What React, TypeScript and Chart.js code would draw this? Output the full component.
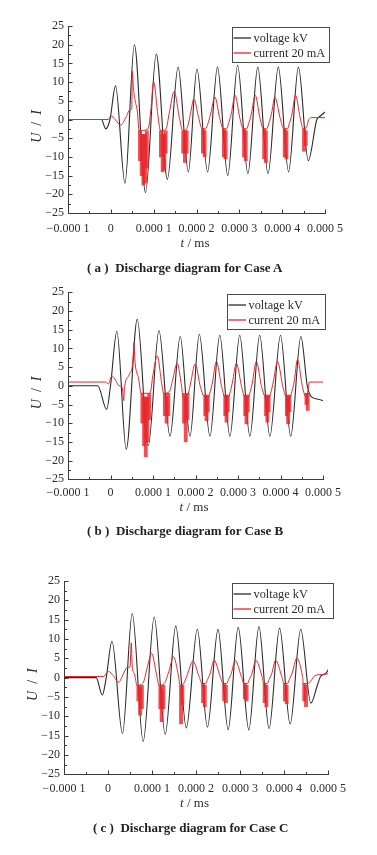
import React, { useEffect, useRef } from 'react';
import { Chart, registerables } from 'chart.js';

Chart.register(...registerables);

// ---------- axes (time in units of 1e-6 ms; labels shown in ms) ----------
const X_MIN = -100;
const X_MAX = 500;
const X_STEP = 100;
const X_MINOR = 50;
const Y_MIN = -25;
const Y_MAX = 25;
const Y_STEP = 5;
const Y_MINOR = 2.5;

const xTickValues = [-100, 0, 100, 200, 300, 400, 500];
const xTickLabels = ['\u22120.000 1', '0', '0.000 1', '0.000 2', '0.000 3', '0.000 4', '0.000 5'];
const yTickValues = [25, 20, 15, 10, 5, 0, -5, -10, -15, -20, -25];
const yTickLabels = ['25', '20', '15', '10', '5', '0', '\u22125', '\u221210', '\u221215', '\u221220', '\u221225'];
const seriesLabels = ['voltage kV', 'current 20 mA'];
const captionTexts = [
  '( a )  Discharge diagram for Case A',
  '( b )  Discharge diagram for Case B',
  '( c )  Discharge diagram for Case C',
];

// ---------- Case A ----------
const voltageTimeA = [-100, -22, -12, -2, 11, 33, 55, 81, 106, 132, 157, 181, 201, 226, 249, 273, 296, 320, 343, 367, 391, 415, 438, 461, 481, 490, 500];
const voltageA = [0, 0, -2.5, 0, 9, -17, 20, -19.5, 17.5, -16, 14, -14, 13.5, -14, 14, -15, 14.5, -14.5, 14, -14.5, 14, -14, 14, -11, 0, 1, 2];
const currentTimeA = [-100, -6, 0, 10, 23, 35, 44, 49, 50, 53, 57, 62, 66, 87, 93, 100, 110, 116, 129, 136, 148, 160, 168, 179, 185, 194, 205, 213, 221, 227, 233, 243, 254, 262, 270, 275, 281, 290, 301, 309, 317, 322, 328, 337, 348, 356, 364, 369, 375, 383, 395, 404, 412, 417, 423, 431, 442, 449, 457, 462, 468, 500];
const currentA = [0, 0, 1, 0, -1.5, 0.5, 2.5, 3, 13, 8, 5, 2, -3, -2.5, 2, 10, 1, -3, -2.5, 1.5, 7.5, 0.5, -3, -2, 1, 5.5, 0.5, -2.5, -2.5, -1, 1.5, 6, 0.5, -2.5, -2.5, -1, 1.5, 6.5, 0.5, -2.5, -2.5, -1, 1.5, 6.5, 0.5, -2.5, -2.5, -1, 1.5, 6, 0.5, -2.5, -2.5, -1, 1.5, 6.5, 0.5, -2.5, -2, 0, 0.5, 0.5];
const burstTimeA = [68, 72, 76, 80, 84, 117, 121, 125, 128, 169, 173, 177, 215, 219, 264, 268, 311, 315, 358, 362, 406, 410, 451, 455];
const burstLowA = [-11, -15, -17.5, -17, -13, -10, -14, -13.5, -9, -9, -11.5, -9, -9, -10, -10, -10.5, -10, -11, -10.5, -11.5, -10, -10.5, -8.5, -7];
const burstHighA = [-3, -4, -4, -4, -3, -3, -4, -4, -3, -3, -3, -3, -2.5, -3, -2.5, -3, -2.5, -3, -2.5, -3, -2.5, -3, -2.5, -3];

// ---------- Case B ----------
const voltageTimeB = [-100, -30, -9, 0, 15, 37, 63, 89, 114, 140, 164, 187, 209, 234, 257, 281, 304, 328, 351, 375, 400, 424, 448, 463, 470, 478, 490, 500];
const voltageB = [0, 0, -6.3, 0, 14.6, -17, 17.8, -16, 14.8, -13.5, 13.2, -13.5, 13.8, -13.5, 13.5, -13.5, 13.5, -13.5, 13.5, -13.5, 13.5, -13.5, 13.2, 0, -2.5, -3.3, -3.6, -4];
const currentTimeB = [-100, -12, -5, 3, 12, 20, 28, 31, 33, 44, 53, 55, 58, 66, 72, 93, 100, 110, 120, 125, 139, 146, 157, 167, 171, 183, 189, 199, 212, 222, 230, 235, 240, 249, 262, 269, 277, 282, 287, 296, 309, 316, 324, 329, 334, 343, 356, 365, 373, 378, 383, 393, 406, 414, 422, 427, 432, 440, 452, 460, 465, 468, 500];
const currentB = [1, 1, 0.5, 2.6, 1.5, 0, -0.5, -4, -0.5, 3, 7, 11.5, 6, 2, -2, -2, 3, 8, 1, -2, -1.5, 1.5, 6, 0, -3, -2, 1, 5.8, -0.5, -3, -3, -1.5, 1, 6.5, -0.5, -3, -3, -1.5, 1, 6, -0.5, -3, -3, -1.5, 1, 6.5, -0.5, -3, -3, -1.5, 1, 6.5, -0.5, -3, -3, -1.5, 1, 7, -0.5, -3, -1, 1, 1];
const burstTimeB = [75, 79, 83, 87, 91, 128, 132, 136, 173, 177, 181, 223, 226, 229, 270, 273, 276, 317, 320, 323, 366, 369, 372, 415, 418, 421, 461, 464];
const burstLowB = [-10, -16, -19, -15, -9, -8, -10, -8, -10, -15, -9, -8, -9.3, -7, -8, -9.7, -7, -8, -10.2, -7, -8, -9.7, -7, -8, -10.2, -7, -5, -6.6];
const burstHighB = [-2, -3, -3, -3, -2, -2, -3, -2, -2, -3, -2, -2.5, -3, -2.5, -2.5, -3, -2.5, -2.5, -3, -2.5, -2.5, -3, -2.5, -2.5, -3, -2.5, -2, -2];

// ---------- Case C ----------
const voltageTimeC = [-100, -27, -13, -4, 9, 33, 55, 80, 105, 130, 154, 178, 203, 226, 250, 273, 296, 320, 343, 366, 390, 414, 438, 461, 476, 483, 495, 500];
const voltageC = [0, 0, -4.5, 0, 9.4, -14.5, 16.6, -16.5, 15.7, -14.7, 13.4, -13, 12.5, -12.8, 12.5, -13.5, 13, -13.5, 13.2, -13.2, 12.8, -12, 12.5, -6.6, -1.9, 0.3, 1.1, 2];
const currentTimeC = [-100, -20, -10, 1, 12, 24, 35, 43, 50, 53, 55, 60, 66, 79, 90, 99, 110, 116, 128, 138, 149, 160, 164, 172, 181, 193, 207, 214, 222, 226, 232, 241, 255, 262, 270, 274, 280, 289, 303, 309, 317, 321, 327, 336, 350, 354, 362, 366, 372, 381, 395, 400, 408, 412, 418, 429, 442, 444, 452, 460, 470, 485, 500];
const currentC = [0.3, 0.3, 0.3, 1.6, 0.5, -1.2, 1, 2.6, 2.8, 9, 3, 1, -2, -1.5, 3, 6.3, 1, -2, -1.5, 1.5, 5.4, 0.5, -2, -1.5, 1, 4.3, 0.3, -1.5, -1.5, -0.5, 1, 4.5, 0.3, -1.5, -1.5, -0.5, 1, 4.5, 0.3, -1.5, -1.5, -0.5, 1, 4.5, 0.3, -1.5, -1.5, -0.5, 1, 4.5, 0.3, -1.5, -1.5, -0.5, 1, 5, 0.3, -1.5, -1.5, -1, 0.5, 0.8, 1];
const burstTimeC = [69, 73, 77, 119, 122, 126, 166, 169, 216, 220, 264, 268, 311, 315, 356, 360, 402, 406, 446, 450];
const burstLowC = [-6, -9.7, -8, -8, -11.4, -8, -12, -7, -6.5, -7.5, -6, -6.5, -5.5, -6, -6.5, -7.5, -6, -6.7, -6, -7.5];
const burstHighC = [-2, -2.5, -2, -2, -3, -2, -2, -2, -1.5, -2, -1.5, -2, -1.5, -2, -1.5, -2, -1.5, -2, -1.5, -2];

// ---------- styling ----------
const FONT = '"Liberation Serif", "DejaVu Serif", serif';
const TEXT = '#2c2c2c';
const AXIS = '#3a3a3a';
const BLACK = '#2a2a2a';
const RED = '#e8252b';
const BURST = 'rgba(232, 37, 43, 0.8)';
const X_AXIS_H = 30;
const W = 377;

type Panel = {
  top: number;
  height: number;
  plot: { left: number; right: number; top: number; bottom: number };
  xTickPad: number;
  xTitleDy: number;
  yTitleX: number;
  legend: { dr: number; dt: number; w: number; h: number };
  captionLeft: number;
  captionCy: number;
  caption: string;
  vt: number[]; v: number[]; it: number[]; i: number[]; bt: number[]; blo: number[]; bhi: number[];
};

const panels: Panel[] = [
  {
    top: 0, height: 265,
    plot: { left: 68, right: 325, top: 26, bottom: 213 },
    xTickPad: 9, xTitleDy: 31, yTitleX: 37,
    legend: { dr: 4, dt: 1, w: 97, h: 35 },
    captionLeft: 87, captionCy: 268.3, caption: captionTexts[0],
    vt: voltageTimeA, v: voltageA, it: currentTimeA, i: currentA, bt: burstTimeA, blo: burstLowA, bhi: burstHighA,
  },
  {
    top: 262, height: 265,
    plot: { left: 68, right: 323, top: 292.3, bottom: 479.3 },
    xTickPad: 6, xTitleDy: 28.4, yTitleX: 37,
    legend: { dr: 2, dt: 1.5, w: 98, h: 35 },
    captionLeft: 87, captionCy: 530.7, caption: captionTexts[1],
    vt: voltageTimeB, v: voltageB, it: currentTimeB, i: currentB, bt: burstTimeB, blo: burstLowB, bhi: burstHighB,
  },
  {
    top: 550, height: 265,
    plot: { left: 64, right: 328, top: 581, bottom: 774.3 },
    xTickPad: 7.5, xTitleDy: 29.7, yTitleX: 33.5,
    legend: { dr: 5, dt: 1.7, w: 101, h: 35 },
    captionLeft: 93, captionCy: 828, caption: captionTexts[2],
    vt: voltageTimeC, v: voltageC, it: currentTimeC, i: currentC, bt: burstTimeC, blo: burstLowC, bhi: burstHighC,
  },
];

type Seg = { t: string; it: boolean };

function drawRich(ctx: CanvasRenderingContext2D, segs: Seg[], size: number) {
  const fontOf = (s: Seg) => `${s.it ? 'italic ' : ''}${size}px ${FONT}`;
  let total = 0;
  const widths = segs.map((s) => {
    ctx.font = fontOf(s);
    const w = ctx.measureText(s.t).width;
    total += w;
    return w;
  });
  let x = -total / 2;
  ctx.textAlign = 'left';
  ctx.textBaseline = 'middle';
  segs.forEach((s, k) => {
    ctx.font = fontOf(s);
    ctx.fillText(s.t, x, 0);
    x += widths[k];
  });
}

function decorPlugin(p: Panel) {
  return {
    id: 'decor',
    afterDraw(chart: any) {
      const ctx: CanvasRenderingContext2D = chart.ctx;
      const { left, right, top, bottom } = chart.chartArea;
      const xs = chart.scales.x;
      const ys = chart.scales.y;
      ctx.save();
      ctx.strokeStyle = AXIS;
      ctx.lineWidth = 1;
      const L = Math.round(left) + 0.5;
      const B = Math.round(bottom) + 0.5;
      ctx.beginPath();
      ctx.moveTo(L, Math.round(top));
      ctx.lineTo(L, B);
      ctx.lineTo(Math.round(right) + 1, B);
      // inward ticks, x
      for (let v = X_MIN; v <= X_MAX + 1e-6; v += X_MINOR) {
        const major = Math.abs(v % X_STEP) < 1e-6;
        const px = Math.round(xs.getPixelForValue(v)) + 0.5;
        ctx.moveTo(px, B);
        ctx.lineTo(px, B - (major ? 4 : 2.5));
      }
      // inward ticks, y
      for (let v = Y_MIN; v <= Y_MAX + 1e-6; v += Y_MINOR) {
        const major = Math.abs(v % Y_STEP) < 1e-6;
        const py = Math.round(ys.getPixelForValue(v)) + 0.5;
        ctx.moveTo(L, py);
        ctx.lineTo(L + (major ? 4 : 2.5), py);
      }
      ctx.stroke();

      // axis titles
      ctx.fillStyle = TEXT;
      ctx.save();
      ctx.translate((left + right) / 2 - 1.5, bottom + p.xTitleDy);
      drawRich(ctx, [{ t: 't', it: true }, { t: ' / ms', it: false }], 13);
      ctx.restore();
      ctx.save();
      ctx.translate(p.yTitleX, (top + bottom) / 2 + 7);
      ctx.rotate(-Math.PI / 2);
      drawRich(ctx, [{ t: 'U', it: true }, { t: '\u2002/\u2002', it: false }, { t: 'I', it: true }], 14);
      ctx.restore();

      // legend box
      const bx = Math.round(right + p.legend.dr - p.legend.w) + 0.5;
      const by = Math.round(top + p.legend.dt) + 0.5;
      ctx.fillStyle = '#ffffff';
      ctx.fillRect(bx, by, p.legend.w, p.legend.h);
      ctx.strokeStyle = '#4a4a4a';
      ctx.lineWidth = 1;
      ctx.strokeRect(bx, by, p.legend.w, p.legend.h);
      const rows = [
        { label: seriesLabels[0], color: BLACK, y: by + 10.5 },
        { label: seriesLabels[1], color: RED, y: by + 25.5 },
      ];
      ctx.font = `12.3px ${FONT}`;
      ctx.textAlign = 'left';
      ctx.textBaseline = 'middle';
      rows.forEach((r) => {
        ctx.strokeStyle = r.color;
        ctx.lineWidth = 1.3;
        ctx.beginPath();
        ctx.moveTo(bx + 1, r.y);
        ctx.lineTo(bx + 18.5, r.y);
        ctx.stroke();
        ctx.fillStyle = TEXT;
        ctx.fillText(r.label, bx + 21, r.y + 0.5);
      });
      ctx.restore();
    },
  };
}

function PanelChart({ p }: { p: Panel }) {
  const ref = useRef<HTMLCanvasElement | null>(null);
  useEffect(() => {
    if (!ref.current) return;
    const voltagePts = p.vt.map((t, k) => ({ x: t, y: p.v[k] }));
    const currentPts = p.it.map((t, k) => ({ x: t, y: p.i[k] }));
    const burstPts = p.bt.map((t, k) => ({ x: t, y: [p.blo[k], p.bhi[k]] }));
    const chart = new Chart(ref.current, {
      type: 'line',
      data: {
        datasets: [
          {
            type: 'line',
            label: seriesLabels[0],
            data: voltagePts as any,
            borderColor: BLACK,
            borderWidth: 1.1,
            pointRadius: 0,
            cubicInterpolationMode: 'monotone',
            order: 3,
          },
          {
            type: 'line',
            label: seriesLabels[1],
            data: currentPts as any,
            borderColor: RED,
            borderWidth: 1,
            pointRadius: 0,
            cubicInterpolationMode: 'monotone',
            order: 2,
          },
          {
            type: 'bar',
            label: seriesLabels[1] + ' burst',
            data: burstPts as any,
            backgroundColor: BURST,
            borderWidth: 0,
            barThickness: 3.2,
            order: 1,
          } as any,
        ],
      },
      options: {
        responsive: false,
        maintainAspectRatio: false,
        animation: false,
        events: [],
        layout: {
          padding: {
            top: p.plot.top - p.top,
            right: W - p.plot.right,
            bottom: p.height - (p.plot.bottom - p.top) - X_AXIS_H,
            left: 0,
          },
        },
        plugins: { legend: { display: false }, tooltip: { enabled: false }, title: { display: false } },
        scales: {
          x: {
            type: 'linear',
            min: X_MIN,
            max: X_MAX,
            offset: false,
            grid: { display: false, drawTicks: false, offset: false },
            border: { display: false },
            ticks: {
              stepSize: X_STEP,
              autoSkip: false,
              maxRotation: 0,
              minRotation: 0,
              padding: p.xTickPad,
              color: TEXT,
              font: { family: FONT, size: 12 },
              callback: (val: any) => {
                const k = xTickValues.indexOf(Math.round(Number(val)));
                return k >= 0 ? xTickLabels[k] : '';
              },
            },
            afterFit: (s: any) => { s.height = X_AXIS_H; },
          },
          y: {
            type: 'linear',
            min: Y_MIN,
            max: Y_MAX,
            grid: { display: false, drawTicks: false },
            border: { display: false },
            ticks: {
              stepSize: Y_STEP,
              autoSkip: false,
              padding: 4,
              color: TEXT,
              font: { family: FONT, size: 12 },
              callback: (val: any) => {
                const k = yTickValues.indexOf(Math.round(Number(val)));
                return k >= 0 ? yTickLabels[k] : '';
              },
            },
            afterFit: (s: any) => { s.width = p.plot.left; },
          },
        },
      } as any,
      plugins: [decorPlugin(p)],
    });
    return () => chart.destroy();
  }, [p]);
  return (
    <canvas
      ref={ref}
      width={W}
      height={p.height}
      style={{ position: 'absolute', left: 0, top: p.top, width: W, height: p.height, display: 'block' }}
    />
  );
}

export default function App() {
  return (
    <div style={{ position: 'absolute', left: 0, top: 0, width: W, height: 855, background: '#ffffff', overflow: 'hidden' }}>
      {panels.map((p, k) => (
        <PanelChart key={k} p={p} />
      ))}
      {panels.map((p, k) => (
        <div
          key={'c' + k}
          style={{
            position: 'absolute',
            left: p.captionLeft,
            top: p.captionCy - 8,
            height: 16,
            lineHeight: '16px',
            whiteSpace: 'pre',
            fontFamily: FONT,
            fontWeight: 'bold',
            fontSize: 13,
            color: '#222',
          }}
        >
          {p.caption}
        </div>
      ))}
    </div>
  );
}
